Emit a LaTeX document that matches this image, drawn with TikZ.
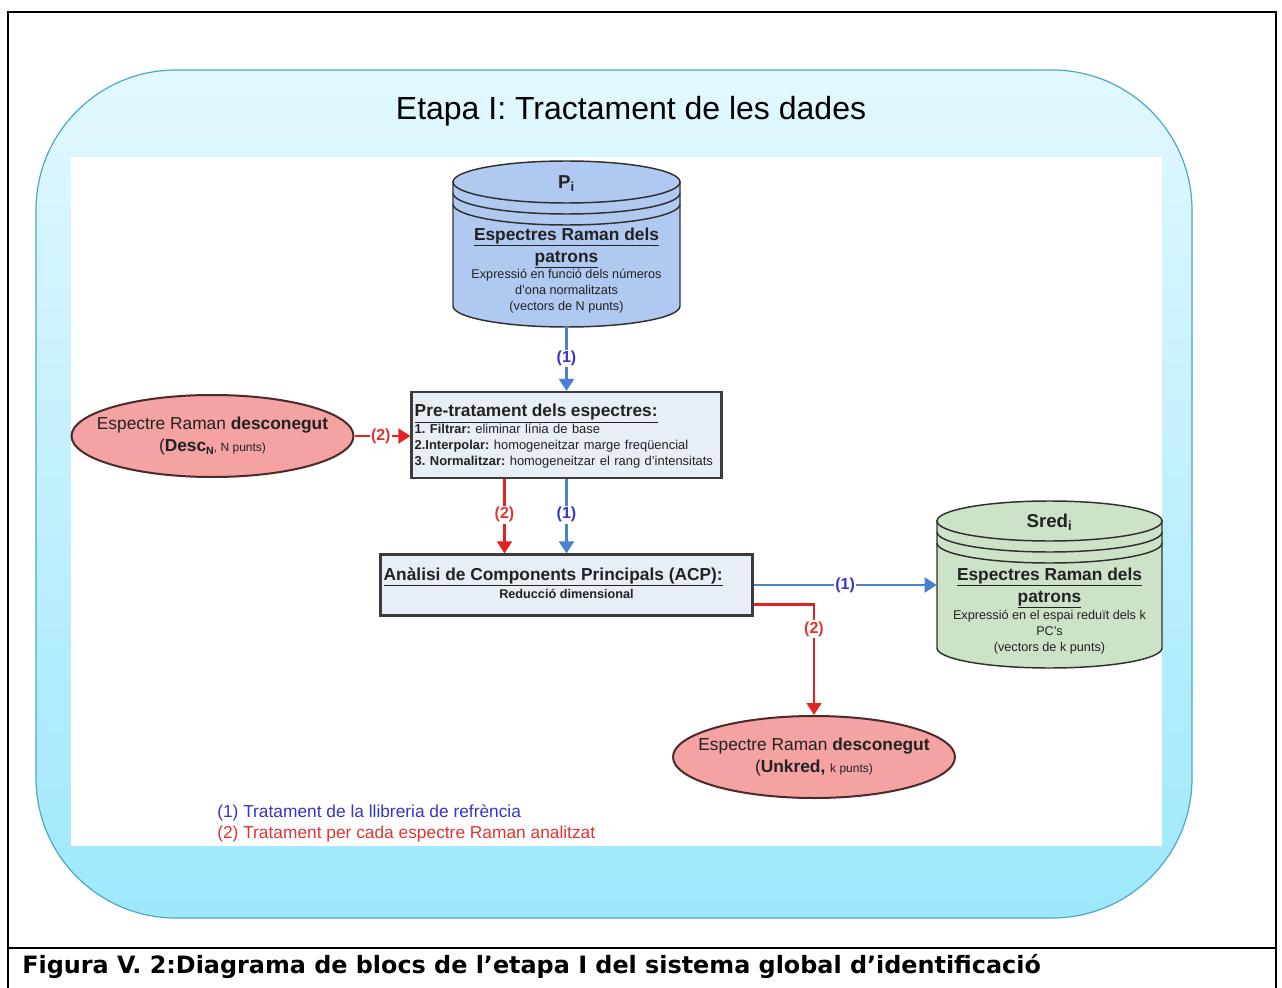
\documentclass[tikz,border=0pt]{standalone}
\usepackage{fontspec}
\setmainfont{Liberation Sans}
\newfontfamily\capfont{DejaVu Sans}
\usetikzlibrary{arrows.meta,shapes.geometric,calc}

\definecolor{frameblue}{HTML}{4BA8C6}
\definecolor{paletop}{HTML}{E2F8FE}
\definecolor{palebot}{HTML}{9EE8FC}
\definecolor{cylblue}{HTML}{AFC9F1}
\definecolor{cylgreen}{HTML}{CDE3C8}
\definecolor{ovalred}{HTML}{F4A2A2}
\definecolor{ovaledge}{HTML}{4A2A2A}
\definecolor{boxfill}{HTML}{E8EEF6}
\definecolor{edgegray}{HTML}{3C3C3C}
\definecolor{drumedge}{HTML}{303030}
\definecolor{flowblue}{HTML}{4A7FD2}
\definecolor{flowred}{HTML}{E42222}
\definecolor{tagblue}{HTML}{3535C8}
\definecolor{tagred}{HTML}{E03535}
\definecolor{inktext}{HTML}{222222}

% database drum: #1 left x, #2 right x, #3 top centre y, #4 bottom centre y,
% #5 vertical radius, #6 fill colour (all in px of the drawing grid)
\newcommand\drum[6]{%
  \pgfmathsetmacro\drumrx{0.75*(#2-#1)/2}%
  \pgfmathsetmacro\drumry{0.75*#5}%
  \pgfmathsetmacro\drumcx{(#1+#2)/2}%
  \filldraw[fill=#6, draw=drumedge, line width=1.1pt]
    (#1,#3) -- (#1,#4) arc[start angle=180, end angle=360, x radius=\drumrx pt, y radius=\drumry pt]
    -- (#2,#3) -- cycle;
  \filldraw[fill=#6, draw=drumedge, line width=1.1pt]
    (\drumcx,#3) ellipse[x radius=\drumrx pt, y radius=\drumry pt];
  \draw[drumedge, line width=1.1pt]
    (#1,#3+11) arc[start angle=180, end angle=360, x radius=\drumrx pt, y radius=\drumry pt];
  \draw[drumedge, line width=1.1pt]
    (#1,#3+22) arc[start angle=180, end angle=360, x radius=\drumrx pt, y radius=\drumry pt];
}

\begin{document}
\begin{tikzpicture}[x=0.75pt,y=-0.75pt,
  hd/.style={font=\fontsize{13}{16.5}\selectfont\bfseries, text=inktext, align=center, inner sep=0pt},
  note/.style={font=\fontsize{9.5}{12}\selectfont, text=inktext, align=center, inner sep=0pt},
  oval/.style={ellipse, fill=ovalred, draw=ovaledge, line width=1.5pt, inner sep=0pt,
    minimum width=211.5pt, minimum height=61.5pt},
  ovaltext/.style={align=center, text=inktext, inner sep=0pt, font=\fontsize{13}{16.5}\selectfont},
  stepbox/.style={rectangle, fill=boxfill, draw=edgegray, line width=1.6pt},
  ghost/.style={rectangle, inner sep=0pt, draw=none},
  flowone/.style={draw=flowblue, line width=2.2pt, -{Triangle[width=11pt,length=9pt]}},
  flowtwo/.style={draw=flowred, line width=2pt, -{Triangle[width=11pt,length=9pt]}},
  tagone/.style={fill=white, inner sep=1pt, text=tagblue, font=\fontsize{12}{14}\selectfont\bfseries},
  tagtwo/.style={fill=white, inner sep=1pt, text=tagred, font=\fontsize{12}{14}\selectfont\bfseries},
  legend/.style={anchor=west, inner sep=0pt, font=\fontsize{13}{15}\selectfont}
]
\useasboundingbox (0,0) rectangle (1282,988);
\fill[white] (0,0) rectangle (1282,988);

% page frame and caption row
\draw[line width=1.5pt] (8,988) -- (8,12) -- (1276,12) -- (1276,988);
\draw[line width=1.5pt] (8,948) -- (1276,948);
\node[anchor=west, inner sep=0pt, font=\capfont\bfseries\fontsize{17.9}{21}\selectfont] (caption) at (22,967)
  {Figura V. 2:Diagrama de blocs de l’etapa I del sistema global d’identificació};

% stage panel
\path[top color=paletop, bottom color=palebot, draw=frameblue, line width=0.9pt, rounded corners=105pt]
  (36,70) rectangle (1192,918);
\fill[white] (71,157) rectangle (1162,846);
\node[font=\fontsize{24}{28}\selectfont, inner sep=0pt] (title) at (631,111) {Etapa I: Tractament de les dades};

% reference spectra drum
\drum{453}{680}{182}{306}{21}{cylblue}
\node[ghost, minimum width=170.25pt, minimum height=124.5pt] (pi) at (566.5,244) {};
\node[font=\fontsize{14}{16}\selectfont\bfseries, text=inktext, inner sep=0pt] (pititle) at (566.5,184) {P\textsubscript{i}};
\node[hd] (pihead) at (566.5,248) {\underline{Espectres Raman dels}\\\underline{patrons}};
\node[note] (pinote) at (566.5,291) {Expressió en funció dels números\\d'ona normalitzats\\(vectors de N punts)};

% reduced spectra drum
\drum{937}{1162}{521}{648}{20}{cylgreen}
\node[ghost, minimum width=168.75pt, minimum height=125.25pt] (sred) at (1049.5,584.5) {};
\node[font=\fontsize{14}{16}\selectfont\bfseries, text=inktext, inner sep=0pt] (sredtitle) at (1049.5,522) {Sred\textsubscript{i}};
\node[hd] (sredhead) at (1049.5,588) {\underline{Espectres Raman dels}\\\underline{patrons}};
\node[note] (srednote) at (1049.5,632) {Expressió en el espai reduït dels k\\PC's\\(vectors de k punts)};

% unknown spectra
\node[oval] (desc) at (212.5,436) {};
\node[ovaltext] (desctext) at (desc.center) {Espectre Raman \textbf{desconegut}\\
  (\textbf{Desc}\raisebox{-0.3ex}{\fontsize{8}{9}\selectfont\bfseries N}{\fontsize{9}{10}\selectfont, N punts)}};
\node[oval] (unk) at (814,757) {};
\node[ovaltext] (unktext) at (unk.center) {Espectre Raman \textbf{desconegut}\\
  (\textbf{Unkred,} {\fontsize{9}{10}\selectfont k punts)}};

% processing steps
\node[stepbox, minimum width=232.5pt, minimum height=64.5pt] (pre) at (566.5,435) {};
\node[anchor=north west, inner sep=0pt, text width=228pt, align=left, text=inktext]
  (pretext) at ($(pre.north west)+(4,13)$) {\frenchspacing
  {\fontsize{13}{15}\selectfont\bfseries\underline{Pre-tratament dels espectres:}\par}
  \fontsize{9.7}{12.3}\selectfont
  \textbf{1. Filtrar:} eliminar línia de base\par
  \textbf{2.Interpolar:} homogeneitzar marge freqüencial\par
  \textbf{3. Normalitzar:} homogeneitzar el rang d'intensitats\par};
\node[stepbox, minimum width=279pt, minimum height=45.75pt] (acp) at (566.5,585) {};
\node[anchor=west, inner sep=0pt, text=inktext, font=\fontsize{13}{15}\selectfont\bfseries]
  (acphead) at ($(acp.west)+(4,-8)$) {\underline{Anàlisi de Components Principals (ACP):}};
\node[inner sep=0pt, text=inktext, font=\fontsize{9.5}{11}\selectfont\bfseries]
  (acpsub) at ($(acp.center)+(0,9)$) {Reducció dimensional};

% flows
\draw[flowone] (pi.south) -- node[tagone, pos=0.49] (t1a) {(1)} (pre.north);
\draw[flowtwo] (desc.east) -- node[tagtwo, pos=0.47] (t2a) {(2)} (desc.east -| pre.west);
\draw[flowtwo] ($(pre.south)+(-62,0)$) -- node[tagtwo, pos=0.48] (t2b) {(2)} ($(acp.north)+(-62,0)$);
\draw[flowone] (pre.south) -- node[tagone, pos=0.48] (t1b) {(1)} (acp.north);
\draw[flowone] (acp.east) -- node[tagone, pos=0.5] (t1c) {(1)} (acp.east -| sred.west);
\draw[flowtwo] ($(acp.south east)+(0,-12)$) -| node[tagtwo, pos=0.61] (t2c) {(2)} (unk.north);

% legend
\node[legend, text=tagblue] (leg1) at (217,813) {(1) Tratament de la llibreria de refrència};
\node[legend, text=tagred] (leg2) at (217,834) {(2) Tratament per cada espectre Raman analitzat};
\end{tikzpicture}
\end{document}
